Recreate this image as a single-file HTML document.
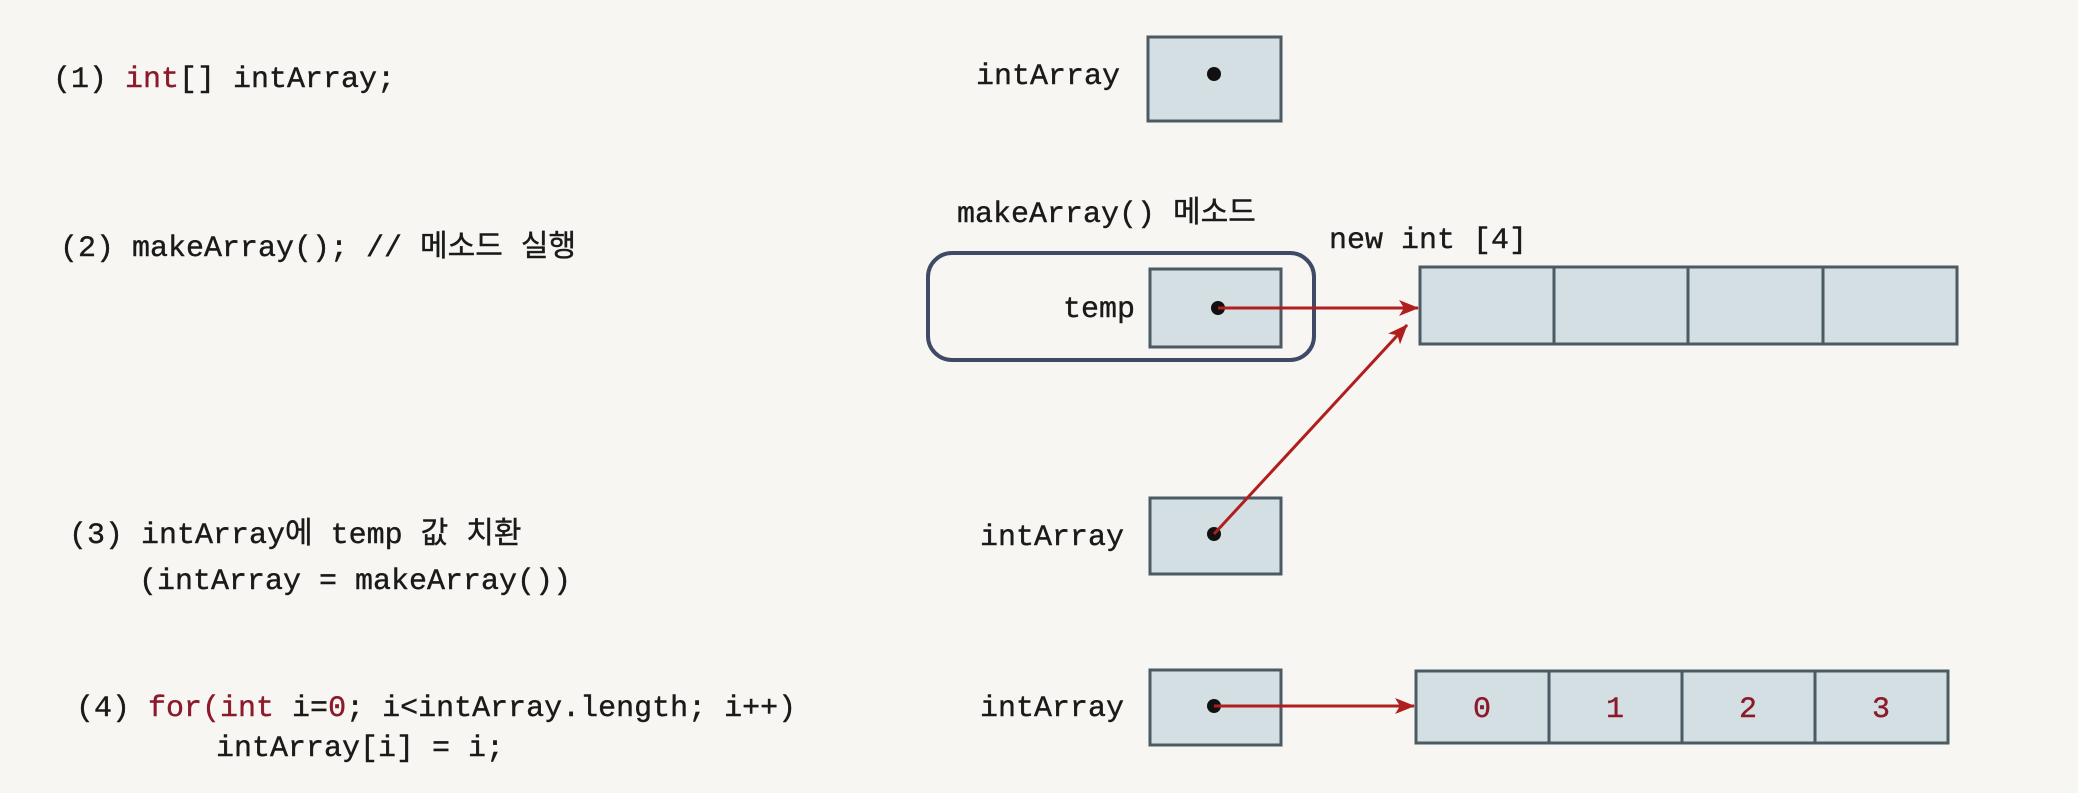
<!DOCTYPE html>
<html><head><meta charset="utf-8"><style>
html,body{margin:0;padding:0;background:#f7f6f3;}
svg{display:block}
text{font-family:"Liberation Mono","Noto Sans CJK KR",monospace;font-size:30px;fill:#1a1a1a;stroke:#1a1a1a;stroke-width:0.4}
.r{fill:#8b1a2a;stroke:#8b1a2a}
</style></head><body>
<svg width="2078" height="793" viewBox="0 0 2078 793">
<rect width="2078" height="793" fill="#f7f6f3"/>
<defs><marker id="a" markerWidth="20" markerHeight="16" refX="19" refY="8" orient="auto" markerUnits="userSpaceOnUse"><path d="M0,0 L20,8 L0,16 L5,8 Z" fill="#b01e1e"/></marker></defs>
<g fill="#d3dfe2" stroke="#4b5b63" stroke-width="3">
<rect x="1148" y="37" width="133" height="84"/>
<rect x="928" y="253" width="386" height="107" rx="24" fill="none" stroke="#3e4a66" stroke-width="4"/>
<rect x="1150" y="269" width="131" height="78"/>
<rect x="1420" y="267" width="537" height="77"/>
<line x1="1554" y1="267" x2="1554" y2="344"/><line x1="1688" y1="267" x2="1688" y2="344"/><line x1="1823" y1="267" x2="1823" y2="344"/>
<rect x="1150" y="498" width="131" height="76"/>
<rect x="1150" y="670" width="131" height="75"/>
<rect x="1416" y="671" width="532" height="72"/>
<line x1="1549" y1="671" x2="1549" y2="743"/><line x1="1682" y1="671" x2="1682" y2="743"/><line x1="1815" y1="671" x2="1815" y2="743"/>
</g>
<g fill="#111"><circle cx="1214" cy="74" r="7"/><circle cx="1218" cy="308" r="7"/><circle cx="1214" cy="534" r="7"/><circle cx="1214" cy="706" r="7"/></g>
<g stroke="#b01e1e" stroke-width="3" fill="none">
<line x1="1218" y1="308" x2="1418" y2="308" marker-end="url(#a)"/>
<line x1="1214" y1="534" x2="1407" y2="325" marker-end="url(#a)"/>
<line x1="1214" y1="706" x2="1414" y2="706" marker-end="url(#a)"/>
</g>
<text x="53" y="87">(1) <tspan class="r">int</tspan>[] intArray;</text>
<text x="1120" y="84" text-anchor="end">intArray</text>
<text x="957" y="222">makeArray() 메소드</text>
<text x="60" y="256">(2) makeArray(); // 메소드 실행</text>
<text x="1329" y="248">new int [4]</text>
<text x="1135" y="317" text-anchor="end">temp</text>
<text x="69" y="543">(3) intArray에 temp 값 치환</text>
<text x="139" y="589">(intArray = makeArray())</text>
<text x="1124" y="545" text-anchor="end">intArray</text>
<text x="76" y="716">(4) <tspan class="r">for(int</tspan> i=<tspan class="r">0</tspan>; i&lt;intArray.length; i++)</text>
<text x="216" y="756">intArray[i] = i;</text>
<text x="1124" y="716" text-anchor="end">intArray</text>
<g text-anchor="middle"><text x="1482" y="717" class="r">0</text><text x="1615" y="717" class="r">1</text><text x="1748" y="717" class="r">2</text><text x="1881" y="717" class="r">3</text></g>
</svg>
</body></html>
